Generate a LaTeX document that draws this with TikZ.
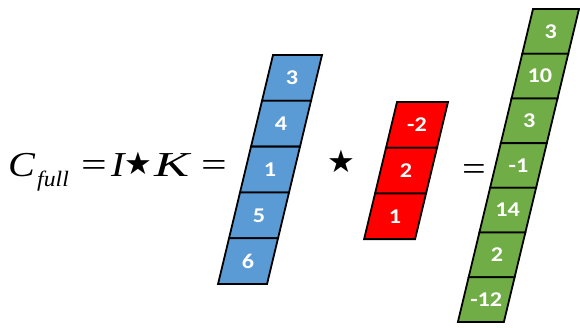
\documentclass[tikz,border=0pt]{standalone}
\usepackage{graphicx}
\usepackage{fontspec}
\setmainfont{Liberation Serif}
\newfontfamily\cellfont{Carlito}
\newfontfamily\symfont{DejaVu Sans}
\definecolor{cblue}{HTML}{5B9BD5}
\definecolor{cred}{HTML}{FF0000}
\definecolor{cgreen}{HTML}{70AD47}
\tikzset{
  celltext/.style={text=white, font=\cellfont\bfseries\fontsize{21}{21}\selectfont, inner sep=0pt},
  cellbox/.style={draw=black, line width=1.8pt, line join=miter},
  mathtxt/.style={inner sep=0pt, anchor=base west, font=\fontsize{35}{35}\selectfont},
  subtxt/.style={inner sep=0pt, anchor=base west, font=\itshape\fontsize{22}{22}\selectfont},
  startxt/.style={inner sep=0pt, anchor=base west, font=\symfont\fontsize{31}{31}\selectfont},
}
\newcommand\mycell[7]{%
  \path[cellbox, fill=#6] (#2,#3) -- ++(#4,0) -- ++({-0.24*#5},#5) -- ++({-#4},0) -- cycle;
  \node[celltext] (#1) at ({#2+#4/2-0.12*#5},{#3+#5/2}) {\scalebox{1.15}[1]{#7}};
}
\begin{document}
\begin{tikzpicture}[x=1pt,y=-1pt]
\useasboundingbox (0,0) rectangle (580,327);
% formula
\node[mathtxt] (C) at (8,176) {\scalebox{1.15}[1]{\itshape C}};
\node[subtxt] (sub) at (37,186) {\scalebox{1.08}[1]{full}};
\node[mathtxt] (eqa) at (81,176) {\scalebox{1.3}[1]{=}};
\node[mathtxt] (I) at (111,176) {\scalebox{1.15}[1]{\itshape I}};
\node[startxt] (stara) at (124,174) {★};
\node[mathtxt] (K) at (154,176) {\scalebox{1.5}[1]{\itshape K}};
\node[mathtxt] (eqb) at (201,176) {\scalebox{1.3}[1]{=}};
% blue column
\foreach \t [count=\i from 0] in {3,4,1,5,6} {
  \mycell{b\i}{273-0.24*45.8*\i}{55+45.8*\i}{49}{45.8}{cblue}{\t}
}
\node[startxt] (starb) at (327,172) {★};
% red column
\foreach \t [count=\i from 0] in {-2,2,1} {
  \mycell{r\i}{397-0.24*45.7*\i}{102+45.7*\i}{51}{45.7}{cred}{\t}
}
\node[mathtxt] (eqc) at (462,180) {\scalebox{1.2}[1]{=}};
% green column
\foreach \t [count=\i from 0] in {3,10,3,-1,14,2,-12} {
  \mycell{g\i}{533-0.24*44.7*\i}{9+44.7*\i}{46}{44.7}{cgreen}{\t}
}
\end{tikzpicture}
\end{document}
